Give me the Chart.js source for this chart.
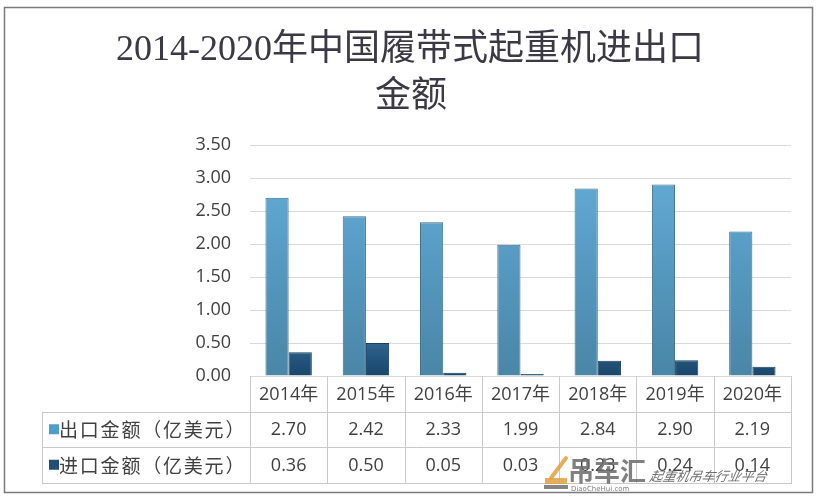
<!DOCTYPE html>
<html>
<head>
<meta charset="utf-8">
<script src="https://cdn.jsdelivr.net/npm/chart.js@4"></script>
<style>
  body { margin: 0; background: #fff; }
  #wrap { width: 820px; height: 498px; }
</style>
</head>
<body>
<div id="wrap"><canvas id="chart" width="820" height="498"></canvas></div>
<script>
// data
const titleLines = ["2014-2020年中国履带式起重机进出口", "金额"];
const categories = ["2014年", "2015年", "2016年", "2017年", "2018年", "2019年", "2020年"];
const exportValues = [2.70, 2.42, 2.33, 1.99, 2.84, 2.90, 2.19];
const importValues = [0.36, 0.50, 0.05, 0.03, 0.23, 0.24, 0.14];
const seriesNames = ["出口金额（亿美元）", "进口金额（亿美元）"];
const legendColors = ["#4f9dc9", "#234f74"];

const textColor = "#404040";
const lineColor = "#c9c9c9";
const tableFont = '18px "Open Sans", "Noto Sans CJK SC", sans-serif';

// gradient helper
function barGradient(ctx, top, bottom, stops) {
    const g = ctx.createLinearGradient(0, top, 0, bottom);
    stops.forEach((c, i) => g.addColorStop(i / (stops.length - 1), c));
    return g;
}

// frame + title
const framePlugin = {
    id: "frame",
    beforeDraw(chart) {
        const ctx = chart.ctx;
        ctx.save();
        ctx.fillStyle = "#ffffff";
        ctx.fillRect(0, 0, chart.width, chart.height);
        ctx.strokeStyle = "#7a7a7a";
        ctx.lineWidth = 1.5;
        ctx.strokeRect(4.5, 7.5, 808, 485);

        ctx.fillStyle = "#3b3946";
        ctx.font = '36px "Liberation Serif", "Noto Sans CJK SC", serif';
        ctx.textAlign = "center";
        ctx.textBaseline = "middle";
        ctx.fillText(titleLines[0], 410, 51);
        ctx.fillText(titleLines[1], 411, 98);
        ctx.restore();
    }
};

// data table under the plot
const tablePlugin = {
    id: "dataTable",
    afterDraw(chart) {
        const ctx = chart.ctx;
        const xs = chart.scales.x;
        const area = chart.chartArea;
        const half = (xs.getPixelForValue(1) - xs.getPixelForValue(0)) / 2;
        const left = xs.getPixelForValue(0) - half;
        const right = xs.getPixelForValue(categories.length - 1) + half;
        const top = area.bottom;
        const rowH = 35.5;
        const tableLeft = 42;

        ctx.save();
        ctx.strokeStyle = lineColor;
        ctx.lineWidth = 1;

        // horizontal lines
        for (let r = 1; r <= 3; r++) {
            const y = Math.round(top + r * rowH) + 0.5;
            ctx.beginPath();
            ctx.moveTo(tableLeft, y);
            ctx.lineTo(right, y);
            ctx.stroke();
        }
        // vertical lines
        ctx.beginPath();
        ctx.moveTo(tableLeft + 0.5, Math.round(top + rowH));
        ctx.lineTo(tableLeft + 0.5, Math.round(top + 3 * rowH) + 1);
        ctx.stroke();
        for (let i = 0; i <= categories.length; i++) {
            const x = Math.round(left + i * half * 2) + 0.5;
            ctx.beginPath();
            ctx.moveTo(x, top);
            ctx.lineTo(x, Math.round(top + 3 * rowH) + 1);
            ctx.stroke();
        }

        ctx.fillStyle = textColor;
        ctx.font = tableFont;
        ctx.textAlign = "center";
        ctx.textBaseline = "middle";
        categories.forEach((c, i) => {
            const x = xs.getPixelForValue(i);
            ctx.fillText(c, x, top + rowH / 2 + 1);
            ctx.fillText(exportValues[i].toFixed(2), x, top + rowH * 1.5 + 1);
            ctx.fillText(importValues[i].toFixed(2), x, top + rowH * 2.5 + 1);
        });

        // row headers with legend squares
        ctx.textAlign = "left";
        ctx.font = '19px "Noto Sans CJK SC", sans-serif';
        ctx.letterSpacing = "1.8px";
        seriesNames.forEach((name, r) => {
            const cy = top + rowH * (r + 1.5);
            ctx.fillStyle = legendColors[r];
            ctx.fillRect(49, cy - 5, 10, 10);
            ctx.fillStyle = textColor;
            ctx.fillText(name, 59, cy + 1);
        });
        ctx.letterSpacing = "0px";
        ctx.restore();
    }
};

// watermark of the source site
const watermarkPlugin = {
    id: "watermark",
    afterDraw(chart) {
        const ctx = chart.ctx;
        ctx.save();
        ctx.globalAlpha = 0.85;
        // little crane mark
        ctx.strokeStyle = "#e0a040";
        ctx.lineWidth = 4;
        ctx.lineCap = "round";
        ctx.beginPath();
        ctx.moveTo(551, 478);
        ctx.lineTo(566, 458);
        ctx.stroke();
        ctx.fillStyle = "#e0a040";
        ctx.fillRect(545, 478, 22, 6);
        ctx.fillStyle = "#6f6f6f";
        ctx.fillRect(544, 485, 24, 4);

        ctx.fillStyle = "#6a6a6a";
        ctx.font = 'bold 26px "Noto Sans CJK SC", sans-serif';
        ctx.textBaseline = "alphabetic";
        ctx.textAlign = "left";
        ctx.fillText("吊车汇", 568, 481);
        ctx.font = '7px "DejaVu Sans", sans-serif';
        ctx.fillText("DiaoCheHui.com", 571, 491);
        ctx.font = 'italic 13px "Noto Sans CJK SC", sans-serif';
        ctx.fillStyle = "#555555";
        ctx.save();
        ctx.translate(649, 481);
        ctx.transform(1, 0, -0.2, 1, 0, 0);
        ctx.fillText("起重机吊车行业平台", 0, 0);
        ctx.restore();
        ctx.restore();
    }
};

const chart = new Chart(document.getElementById("chart"), {
    type: "bar",
    data: {
        labels: categories,
        datasets: [
            {
                label: seriesNames[0],
                data: exportValues,
                backgroundColor: c => {
                    const a = c.chart.chartArea;
                    if (!a) return "#5aa2cc";
                    return barGradient(c.chart.ctx, a.top, a.bottom, ["#67b0da", "#569ac1", "#4a86a6"]);
                },
                borderColor: "#3b6d8a",
                borderWidth: 1
            },
            {
                label: seriesNames[1],
                data: importValues,
                backgroundColor: c => {
                    const a = c.chart.chartArea;
                    if (!a) return "#24527a";
                    return barGradient(c.chart.ctx, a.bottom - 36, a.bottom, ["#336a93", "#24557d", "#1b466a"]);
                },
                borderColor: "#1b3f5c",
                borderWidth: 1
            }
        ]
    },
    options: {
        responsive: false,
        animation: false,
        devicePixelRatio: 1,
        layout: { padding: { top: 145, left: 0, right: 29, bottom: 0 } },
        plugins: {
            legend: { display: false },
            tooltip: { enabled: false },
            title: { display: false }
        },
        datasets: {
            bar: { categoryPercentage: 0.6, barPercentage: 1.0 }
        },
        scales: {
            x: {
                ticks: { display: false },
                grid: { display: false },
                border: { display: false },
                afterFit: s => { s.height = 122; }
            },
            y: {
                min: 0,
                max: 3.5,
                ticks: {
                    stepSize: 0.5,
                    padding: 19,
                    color: textColor,
                    font: { family: '"Open Sans", sans-serif', size: 18 },
                    callback: v => Number(v).toFixed(2)
                },
                grid: { color: "#d9d9d9", drawTicks: false },
                border: { display: false },
                afterFit: s => { s.width = 250; }
            }
        }
    },
    plugins: [framePlugin, tablePlugin, watermarkPlugin]
});
</script>
</body>
</html>
